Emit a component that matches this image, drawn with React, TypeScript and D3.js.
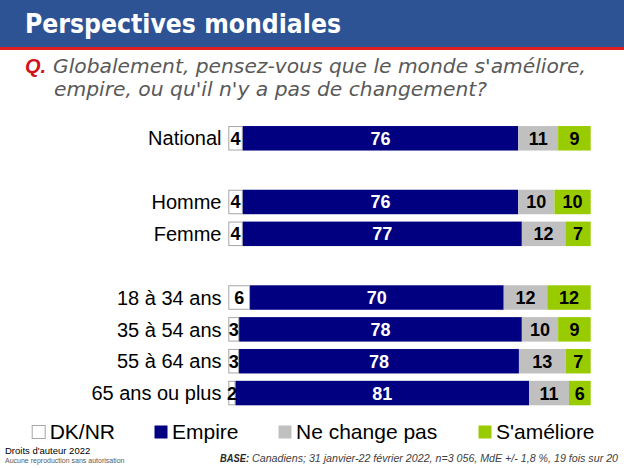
import React from "react";
import * as d3 from "d3";

const categories = ["National", "Homme", "Femme", "18 à 34 ans", "35 à 54 ans", "55 à 64 ans", "65 ans ou plus"];
const dknr = [4, 4, 4, 6, 3, 3, 2];
const empire = [76, 76, 77, 70, 78, 78, 81];
const neChange = [11, 10, 12, 12, 10, 13, 11];
const ameliore = [9, 10, 7, 12, 9, 7, 6];
const seriesKeys = ["DK/NR", "Empire", "Ne change pas", "S'améliore"];
const seriesColors = ["#FFFFFF", "#000080", "#C0C0C0", "#99CC00"];
const labelColors = ["#000000", "#FFFFFF", "#000000", "#000000"];
// row layout with spacer slots between groups
const rowOrder = ["National", "_gap1", "Homme", "Femme", "_gap2", "18 à 34 ans", "35 à 54 ans", "55 à 64 ans", "65 ans ou plus"];

const W = 624;
const H = 468;

export default function App() {
  const table = categories.map((c, i) => ({
    cat: c,
    "DK/NR": dknr[i],
    Empire: empire[i],
    "Ne change pas": neChange[i],
    "S'améliore": ameliore[i],
  }));
  const stack = d3.stack<any>().keys(seriesKeys).offset(d3.stackOffsetExpand);
  const layers = stack(table);

  const x = d3.scaleLinear().domain([0, 1]).range([228.3, 590.7]);
  const y = d3.scaleBand<string>().domain(rowOrder).range([126.05, 405.3]).paddingInner(0.231).paddingOuter(0);
  const bh = y.bandwidth();

  const legendX = [31.7, 154, 278, 478];

  return (
    <svg width={W} height={H} style={{ position: "absolute", left: 0, top: 0, background: "#fff" }}>
      {/* header */}
      <rect x={0} y={0} width={W} height={47} fill="#2E5395" />
      <rect x={0} y={47} width={W} height={3} fill="#E0201E" />
      <text x={25} y={33} fill="#fff" fontFamily="DejaVu Sans" fontWeight="bold" fontSize={26} textLength={316} lengthAdjust="spacingAndGlyphs">
        Perspectives mondiales
      </text>
      {/* question */}
      <text x={25} y={72.5} fill="#D2131A" fontFamily="Liberation Sans" fontWeight="bold" fontStyle="italic" fontSize={20}>Q.</text>
      <text x={53} y={72.5} fill="#595959" fontFamily="DejaVu Sans" fontStyle="italic" fontSize={19} textLength={533} lengthAdjust="spacingAndGlyphs">
        Globalement, pensez-vous que le monde s'améliore,
      </text>
      <text x={54} y={95.5} fill="#595959" fontFamily="DejaVu Sans" fontStyle="italic" fontSize={19} textLength={433} lengthAdjust="spacingAndGlyphs">
        empire, ou qu'il n'y a pas de changement?
      </text>

      {/* category labels */}
      {categories.map((c) => (
        <text key={c} x={221.5} y={(y(c) as number) + bh / 2} dy="0.36em" textAnchor="end" fontFamily="Liberation Sans" fontSize={20} fill="#000">
          {c}
        </text>
      ))}

      {/* bars */}
      {layers.map((layer, li) => (
        <g key={layer.key}>
          {layer.map((d, i) => {
            const cat = categories[i];
            const x0 = x(d[0]);
            const x1 = x(d[1]);
            const yy = y(cat) as number;
            return (
              <rect
                key={cat}
                x={li === 0 ? x0 + 0.5 : x0}
                y={li === 0 ? yy + 0.5 : yy}
                width={li === 0 ? Math.max(0, x1 - x0 - 1) : x1 - x0}
                height={li === 0 ? bh - 1 : bh}
                fill={seriesColors[li]}
                stroke={li === 0 ? "#A6A6A6" : "none"}
                strokeWidth={1}
              />
            );
          })}
        </g>
      ))}
      {/* value labels */}
      {layers.map((layer, li) => (
        <g key={"l" + layer.key}>
          {layer.map((d, i) => {
            const cat = categories[i];
            const v = (d.data as any)[layer.key];
            return (
              <text
                key={cat}
                x={(x(d[0]) + x(d[1])) / 2}
                y={(y(cat) as number) + bh / 2}
                dy="0.36em"
                textAnchor="middle"
                fontFamily="Liberation Sans"
                fontWeight="bold"
                fontSize={18}
                fill={labelColors[li]}
              >
                {v}
              </text>
            );
          })}
        </g>
      ))}

      {/* legend */}
      {seriesKeys.map((k, i) => (
        <g key={"leg" + k}>
          <rect x={legendX[i] + 0.5} y={425.5} width={13} height={13} fill={seriesColors[i]} stroke={i === 0 ? "#A6A6A6" : "none"} />
          <text x={legendX[i] + 18} y={438.5} fontFamily="Liberation Sans" fontSize={21} fill="#000">{k}</text>
        </g>
      ))}

      {/* footer */}
      <text x={5} y={454} fontFamily="Liberation Sans" fontSize={9.5} fill="#000">Droits d'auteur 2022</text>
      <text x={5} y={463} fontFamily="Liberation Sans" fontSize={7} fill="#595959">Aucune reproduction sans autorisation</text>
      <text x={220} y={462} fontFamily="Liberation Sans" fontStyle="italic" fontWeight="bold" fontSize={10} fill="#262626" textLength={29} lengthAdjust="spacingAndGlyphs">BASE:</text>
      <text x={252} y={462} fontFamily="Liberation Sans" fontStyle="italic" fontSize={10} fill="#404040" textLength={366} lengthAdjust="spacingAndGlyphs">
        Canadiens; 31 janvier-22 février 2022, n=3 056, MdE +/- 1,8 %, 19 fois sur 20
      </text>
    </svg>
  );
}
